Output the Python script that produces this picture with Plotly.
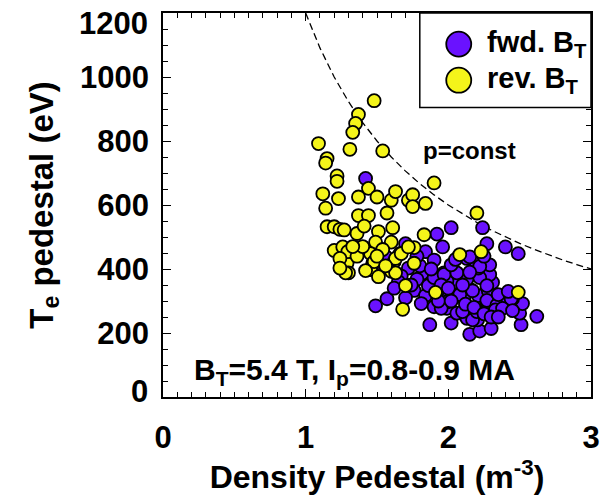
import plotly.graph_objects as go

# ---- data ----
fwd_density = [1.42, 1.92, 2.02, 1.96, 1.70, 1.84, 1.90, 1.56, 1.55, 1.72, 1.83, 1.67, 1.78, 1.97, 1.88,
               1.76, 1.84, 1.97, 1.81, 1.90, 1.99, 1.57, 1.49, 1.87, 2.02, 2.15, 2.22, 2.30, 2.205, 2.13,
               2.06, 2.51, 2.62, 2.50, 2.52, 2.45, 2.34, 2.39, 2.27, 2.21, 2.28, 2.31, 2.29, 2.22, 2.15,
               2.11, 2.05, 1.99, 1.95, 2.13, 2.06, 1.99, 1.92, 1.86, 1.90, 1.97, 2.06, 2.21, 2.29, 2.19,
               2.13, 2.27, 2.15, 2.02, 2.24, 2.40, 2.49, 2.22, 2.27, 2.17, 2.27, 2.34, 2.44, 2.17, 2.10,
               2.20, 2.33, 2.38, 1.65, 1.74, 1.80, 1.88, 1.95, 2.00, 2.08, 2.12, 2.18, 2.25, 2.30, 2.35,
               2.42, 1.62, 1.70, 1.93, 2.02, 2.10, 2.15, 2.25, 2.05, 1.78, 2.35, 2.45]
fwd_te = [683, 509, 529, 469, 479, 454, 428, 439, 403, 403, 388, 378, 368, 388, 358,
          333, 317, 307, 292, 282, 277, 307, 285, 226, 231, 196, 206, 214, 241, 246,
          262, 226, 252, 262, 292, 307, 292, 302, 297, 317, 332, 358, 383, 373, 337,
          307, 327, 297, 277, 368, 358, 363, 327, 348, 373, 383, 388, 403, 413, 423,
          433, 479, 438, 413, 529, 469, 448, 408, 348, 332, 302, 287, 307, 241, 267,
          267, 272, 277, 360, 350, 410, 400, 350, 340, 320, 290, 280, 260, 250, 320,
          330, 340, 310, 300, 300, 350, 390, 440, 430, 440, 250, 270]

rev_density = [1.09, 1.48, 1.37, 1.35, 1.33, 1.31, 1.54, 1.15, 1.14, 1.22, 1.22, 1.12, 1.23, 1.37, 1.44,
               1.50, 1.60, 1.63, 1.72, 1.75, 1.75, 1.14, 1.37, 1.44, 1.57, 1.15, 1.20, 1.24, 1.27, 1.36,
               1.41, 1.51, 1.61, 1.49, 1.60, 1.90, 1.84, 1.83, 1.30, 1.455, 1.54, 1.66, 1.76, 1.47, 1.62,
               1.76, 1.29, 1.455, 1.60, 1.30, 1.51, 1.70, 1.91, 1.68, 1.20, 1.26, 1.295, 1.24, 1.28, 1.48,
               1.63, 1.63, 1.67, 1.72, 1.24, 2.20, 2.08, 2.23, 2.49, 1.36, 1.40, 1.50, 1.56, 1.33, 1.42]
rev_te = [792, 926, 883, 855, 827, 774, 769, 745, 731, 691, 674, 635, 620, 625, 652,
          625, 615, 642, 615, 632, 595, 590, 567, 567, 575, 532, 532, 524, 522, 511,
          534, 517, 529, 484, 484, 669, 605, 507, 457, 448, 461, 448, 467, 418, 423,
          418, 418, 398, 393, 388, 376, 348, 327, 274, 458, 469, 454, 433, 388, 423,
          433, 388, 448, 469, 403, 575, 445, 454, 327, 440, 470, 440, 410, 470, 395]

p_const = 1200.0                      # n*T product of the dashed p=const curve
curve_density = [1.0, 1.1, 1.2, 1.3, 1.4, 1.5, 1.6, 1.7, 1.8, 1.9, 2.0, 2.1, 2.2, 2.3, 2.4, 2.5,
                 2.6, 2.7, 2.8, 2.9, 3.0]
curve_te = [p_const / n for n in curve_density]

x_ticks = [0, 1, 2, 3]
y_ticks = [0, 200, 400, 600, 800, 1000, 1200]
y_tick_text = ["", "200", "400", "600", "800", "1000", ""]   # end labels drawn inside the range below

series_names = ["fwd. B<sub>T</sub>", "rev. B<sub>T</sub>"]

FONT = "Liberation Sans, Arial, sans-serif"
PURPLE = "#6a12ff"
YELLOW = "#f4f41a"
colors = [PURPLE, YELLOW]

fig = go.Figure()
fig.add_trace(go.Scatter(x=curve_density, y=curve_te, mode="lines",
                         line=dict(color="black", width=1.3, dash="7px,4px"),
                         showlegend=False, hoverinfo="skip"))
fig.add_trace(go.Scatter(x=fwd_density, y=fwd_te, mode="markers", name=series_names[0],
                         marker=dict(size=13, color=PURPLE, line=dict(color="black", width=1.8)),
                         showlegend=False))
fig.add_trace(go.Scatter(x=rev_density, y=rev_te, mode="markers", name=series_names[1],
                         marker=dict(size=13, color=YELLOW, line=dict(color="black", width=1.8)),
                         showlegend=False))

tickfont = dict(family=FONT, size=31, color="black", weight="bold")
axis_common = dict(showline=True, linecolor="black", linewidth=1.5, mirror="allticks",
                   ticks="inside", ticklen=8, tickwidth=1.3, tickcolor="black",
                   showgrid=False, zeroline=False, tickfont=tickfont)

fig.update_xaxes(range=[0, 3], tickvals=x_ticks,
                 minor=dict(ticks="inside", ticklen=5, tickwidth=1.2, tickcolor="black", dtick=0.1, showgrid=False),
                 title=dict(text="Density Pedestal (m<sup>-3</sup>)", standoff=9,
                            font=dict(family=FONT, size=32, color="black", weight="bold")),
                 ticklabelstandoff=12, **axis_common)
fig.update_yaxes(range=[0, 1200], tickvals=y_ticks, ticktext=y_tick_text,
                 minor=dict(ticks="inside", ticklen=5, tickwidth=1.2, tickcolor="black", dtick=50, showgrid=False),
                 title=dict(text="T<sub>e</sub> pedestal (eV)", standoff=17,
                            font=dict(family=FONT, size=33, color="black", weight="bold")),
                 ticklabelstandoff=6, **axis_common)

# end tick labels kept inside the axis span, as in the reference
fig.add_annotation(x=0, y=y_ticks[0], xref="paper", yref="y", xanchor="right", yanchor="middle",
                   xshift=-13, yshift=6, text=str(y_ticks[0]), showarrow=False, font=tickfont)
fig.add_annotation(x=0, y=y_ticks[-1], xref="paper", yref="y", xanchor="right", yanchor="middle",
                   xshift=-13, yshift=-10, text=str(y_ticks[-1]), showarrow=False, font=tickfont)

fig.add_annotation(x=0.2, y=80, xref="x", yref="y", xanchor="left", yanchor="middle",
                   text="B<sub>T</sub>=5.4 T, I<sub>p</sub>=0.8-0.9 MA", showarrow=False,
                   font=dict(family=FONT, size=30, color="black", weight="bold"))
fig.add_annotation(x=1.81, y=770, xref="x", yref="y", xanchor="left", yanchor="middle",
                   text="p=const", showarrow=False,
                   font=dict(family=FONT, size=24, color="black", weight="bold"))

# legend box drawn as layout decoration (large symbols like the reference)
legend_left, legend_bottom = 0.6, 0.754
row_y = [0.919, 0.825]
shapes = [dict(type="rect", xref="paper", yref="paper", x0=legend_left, x1=1.0, y0=legend_bottom, y1=1.0,
               fillcolor="white", line=dict(color="black", width=1.5), layer="above")]
for name, col, yy in zip(series_names, colors, row_y):
    shapes.append(dict(type="circle", xref="paper", yref="paper", xsizemode="pixel", ysizemode="pixel",
                       xanchor=0.691, yanchor=yy, x0=-12.5, x1=12.5, y0=-12.5, y1=12.5,
                       fillcolor=col, line=dict(color="black", width=1.8), layer="above"))
    fig.add_annotation(x=0.753, y=yy, xref="paper", yref="paper", xanchor="left", yanchor="middle",
                       text=name, showarrow=False,
                       font=dict(family=FONT, size=29, color="black", weight="bold"))

fig.update_layout(
    width=611, height=497,
    margin=dict(l=163, r=11, t=13, b=89),
    paper_bgcolor="white", plot_bgcolor="white",
    showlegend=False,
    shapes=shapes,
)

fig.write_html("out.html")
